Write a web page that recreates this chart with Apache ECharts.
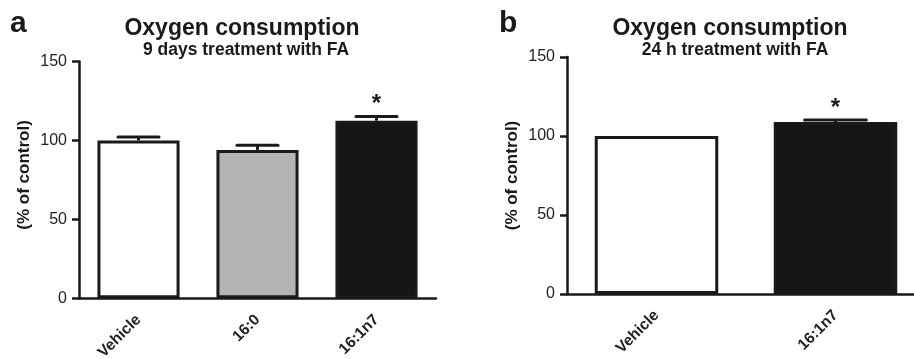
<!DOCTYPE html>
<html>
<head>
<meta charset="utf-8">
<script src="https://cdn.jsdelivr.net/npm/echarts@6/dist/echarts.min.js"></script>
<style>
  html, body { margin: 0; padding: 0; background: #fff; overflow: hidden; }
  /* panel b runs past the right edge in the figure, so the canvas is a bit wider than the window */
  #chart { width: 930px; height: 359px; }
</style>
</head>
<body>
<div id="chart"></div>
<script>
// panel a: 9 days treatment
const catsA = ['Vehicle', '16:0', '16:1n7'];
const meanA = [100, 94, 112.5];
const semA = [2.2, 3.0, 2.6];
const sigA = ['', '', '*'];
const colorsA = ['#ffffff', '#b4b4b4', '#161616'];

// panel b: 24 h treatment
const catsB = ['Vehicle', '16:1n7'];
const meanB = [100, 108.8];
const semB = [0, 1.3];
const sigB = ['', '*'];
const colorsB = ['#ffffff', '#161616'];

const yTicks = [0, 50, 100, 150];

const FONT = '"Liberation Sans", Arial, sans-serif';
const INK = '#1a1a1a';
const BAR_W = 0.69;

const chart = echarts.init(document.getElementById('chart'), null, { renderer: 'canvas' });

function barSeries(idx, means, colors) {
  return {
    type: 'bar',
    xAxisIndex: idx,
    yAxisIndex: idx,
    barWidth: (BAR_W * 100) + '%',
    data: means.map((v, i) => ({
      value: v,
      itemStyle: { color: colors[i], borderColor: INK, borderWidth: 3 }
    })),
    silent: true
  };
}

// error bar (upper only) + significance mark
function errSeries(idx, means, sems, sigs) {
  return {
    type: 'custom',
    xAxisIndex: idx,
    yAxisIndex: idx,
    data: means.map((v, i) => [i, v, sems[i]]),
    z: 5,
    silent: true,
    renderItem: (params, api) => {
      const i = api.value(0);
      const m = api.value(1);
      const e = api.value(2);
      const base = api.coord([i, m]);
      const top = api.coord([i, m + e]);
      const half = api.size([1, 0])[0] * BAR_W * 0.25;
      const children = [];
      if (e > 0) {
        children.push({
          type: 'line',
          shape: { x1: base[0], y1: base[1], x2: top[0], y2: top[1] },
          style: { stroke: INK, lineWidth: 3 }
        });
        children.push({
          type: 'line',
          shape: { x1: top[0] - half, y1: top[1], x2: top[0] + half, y2: top[1] },
          style: { stroke: INK, lineWidth: 3, lineCap: 'round' }
        });
      }
      const s = sigs[params.dataIndex];
      if (s) {
        children.push({
          type: 'text',
          style: {
            x: top[0], y: top[1] - 12, text: s,
            textAlign: 'center', textVerticalAlign: 'middle',
            font: 'bold 24px ' + FONT, fill: INK
          }
        });
      }
      return { type: 'group', children: children };
    }
  };
}

function xAxisOf(idx, cats) {
  return {
    type: 'category',
    gridIndex: idx,
    data: cats,
    boundaryGap: true,
    axisLine: { lineStyle: { color: INK, width: 2.5 } },
    axisTick: { alignWithLabel: true, length: 7, lineStyle: { color: INK, width: 2.5 } },
    axisLabel: { rotate: 45, margin: 19, color: '#222', fontFamily: FONT, fontWeight: 'bold', fontSize: 15.5 },
    splitLine: { show: false }
  };
}

function yAxisOf(idx, lift) {
  return {
    type: 'value',
    gridIndex: idx,
    min: yTicks[0],
    max: yTicks[yTicks.length - 1],
    interval: 50,
    name: '(% of control)',
    nameLocation: 'middle',
    nameRotate: 90,
    nameGap: 46,
    nameTextStyle: { color: INK, fontFamily: FONT, fontWeight: 'bold', fontSize: 17, padding: [0, 0, 0, lift] },
    axisLine: { show: true, lineStyle: { color: INK, width: 2.5 } },
    axisTick: { show: true, length: 7, lineStyle: { color: INK, width: 2.5 } },
    axisLabel: { margin: 12, color: '#222', fontFamily: FONT, fontSize: 16 },
    splitLine: { show: false }
  };
}

function titleTexts(xLetter, xTitle, xSub, letter, sub) {
  return [
    { type: 'text', left: xLetter, top: 9,
      style: { text: letter, font: 'bold 30px ' + FONT, fill: INK } },
    { type: 'text', x: xTitle, y: 28.5,
      style: { text: 'Oxygen consumption', font: 'bold 23px ' + FONT, fill: INK,
               textAlign: 'center', textVerticalAlign: 'middle' } },
    { type: 'text', x: xSub, y: 50,
      style: { text: sub, font: 'bold 17.5px ' + FONT, fill: INK,
               textAlign: 'center', textVerticalAlign: 'middle' } }
  ];
}

chart.setOption({
  animation: false,
  grid: [
    { left: 79, top: 61.5, width: 357, bottom: 60.7, outerBoundsMode: 'none' },
    { left: 567, top: 57, width: 358, bottom: 65, outerBoundsMode: 'none' }
  ],
  xAxis: [xAxisOf(0, catsA), xAxisOf(1, catsB)],
  yAxis: [yAxisOf(0, 10), yAxisOf(1, 0)],
  graphic: [
    ...titleTexts(10, 242, 246, 'a', '9 days treatment with FA'),
    ...titleTexts(499, 730, 735, 'b', '24 h treatment with FA')
  ],
  series: [
    barSeries(0, meanA, colorsA),
    errSeries(0, meanA, semA, sigA),
    barSeries(1, meanB, colorsB),
    errSeries(1, meanB, semB, sigB)
  ]
});
</script>
</body>
</html>
